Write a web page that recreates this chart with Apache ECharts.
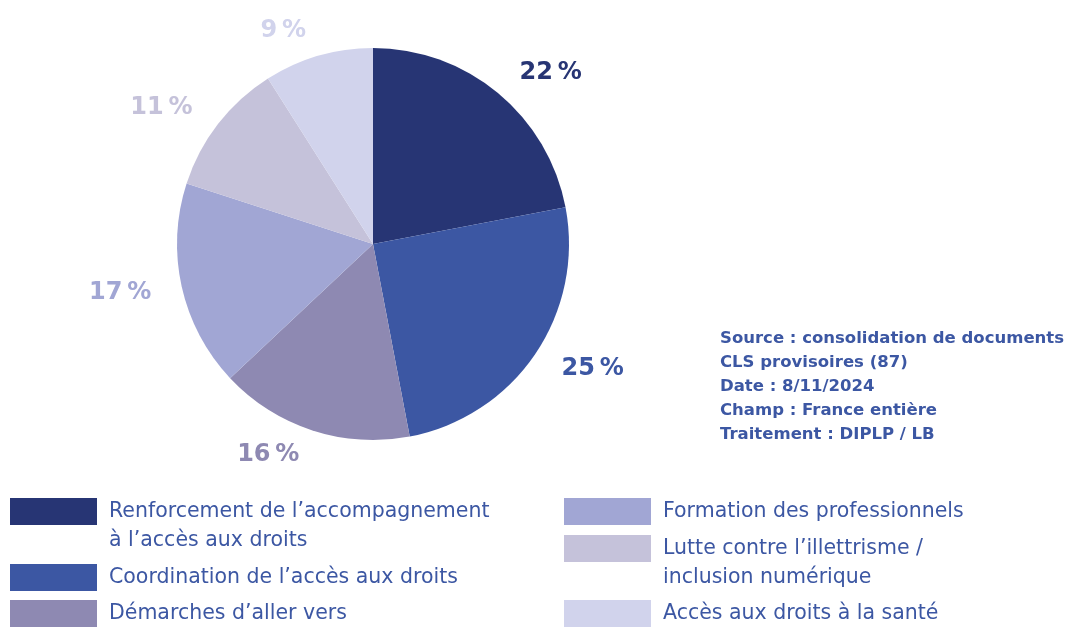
<!DOCTYPE html>
<html>
<head>
<meta charset="utf-8">
<script src="https://cdn.jsdelivr.net/npm/echarts@6/dist/echarts.min.js"></script>
<style>
  html, body { margin: 0; padding: 0; background: #fff; }
  #chart { width: 1067px; height: 627px; }
</style>
</head>
<body>
<div id="chart"></div>
<script>
// catégories et parts (%)
var categories = [
    'Renforcement de l’accompagnement à l’accès aux droits',
    'Coordination de l’accès aux droits',
    'Démarches d’aller vers',
    'Formation des professionnels',
    'Lutte contre l’illettrisme / inclusion numérique',
    'Accès aux droits à la santé'
];
var values = [22, 25, 16, 17, 11, 9];
// libellés de légende (retours à la ligne comme dans l'original)
var legendLabels = [
    ['Renforcement de l’accompagnement', 'à l’accès aux droits'],
    ['Coordination de l’accès aux droits'],
    ['Démarches d’aller vers'],
    ['Formation des professionnels'],
    ['Lutte contre l’illettrisme /', 'inclusion numérique'],
    ['Accès aux droits à la santé']
];
var sourceLines = [
    'Source : consolidation de documents',
    'CLS provisoires (87)',
    'Date : 8/11/2024',
    'Champ : France entière',
    'Traitement : DIPLP / LB'
];

var colors = ['#273574', '#3c57a3', '#8e89b2', '#a1a6d4', '#c5c2da', '#d1d3ec'];
var FONT = '"DejaVu Sans", sans-serif';

// emplacement de chaque entrée de légende (2 colonnes)
var legendSlots = [
    {left: 10, top: 468},
    {left: 10, top: 563},
    {left: 10, top: 599},
    {left: 564, top: 497},
    {left: 564, top: 505},
    {left: 564, top: 599}
];

var chart = echarts.init(document.getElementById('chart'), null, {renderer: 'canvas'});

var legends = categories.map(function (name, i) {
    var lines = legendLabels[i];
    // ligne vide en tête : la 1re ligne reste alignée sur le pavé
    var text = lines.length > 1 ? '\n' + lines.join('\n') : lines[0];
    return {
        left: legendSlots[i].left,
        top: legendSlots[i].top,
        padding: 0,
        orient: 'vertical',
        selectedMode: false,
        icon: 'rect',
        itemWidth: 87,
        itemHeight: 27,
        data: [name],
        formatter: function () { return text; },
        textStyle: {
            color: '#3c57a3',
            fontFamily: FONT,
            fontSize: 20.5,
            lineHeight: 29,
            padding: [0, 0, 0, 7],
            backgroundColor: 'rgba(0,0,0,0)'
        }
    };
});

chart.setOption({
    animation: false,
    color: colors,
    title: {
        text: sourceLines.join('\n'),
        left: 720,
        top: 327,
        padding: 0,
        textStyle: {
            color: '#3c57a3',
            fontFamily: FONT,
            fontWeight: 'bold',
            fontSize: 16.5,
            lineHeight: 24
        }
    },
    legend: legends,
    series: [{
        type: 'pie',
        center: [373, 244],
        radius: 196,
        startAngle: 90,
        clockwise: true,
        avoidLabelOverlap: false,
        silent: true,
        data: categories.map(function (name, i) {
            return {
                name: name,
                value: values[i],
                label: {color: colors[i]}
            };
        }),
        label: {
            show: true,
            position: 'outside',
            formatter: '{c}\u2009%',
            fontFamily: FONT,
            fontWeight: 'bold',
            fontSize: 24
        },
        labelLine: {show: false, length: 26, length2: 0}
    }]
});
</script>
</body>
</html>
